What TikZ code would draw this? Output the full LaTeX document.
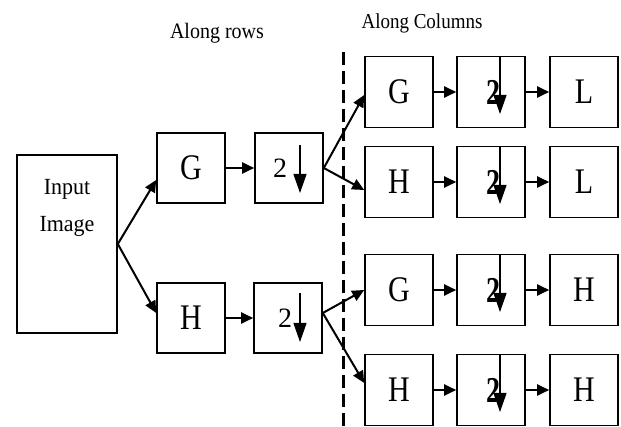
\documentclass[tikz,border=0pt]{standalone}
\usepackage{fontspec}
\usepackage{graphicx}
\setmainfont{Liberation Serif}
\usetikzlibrary{arrows.meta,calc}
\newcommand{\vst}[2]{\scalebox{1}[#1]{#2}}
\tikzset{
  blk/.style={draw=black, line width=1.6pt, minimum width=68pt, minimum height=70pt, inner sep=0pt, fill=white},
  lett/.style={inner sep=0pt, font=\fontsize{30}{30}\selectfont},
  dig/.style={inner sep=0pt, font=\fontsize{28}{28}\selectfont},
  hdr/.style={inner sep=0pt, anchor=base, font=\fontsize{19}{19}\selectfont},
  arr/.style={line width=2pt, -{Triangle[length=12pt,width=11pt]}},
  darr/.style={line width=1.2pt, -{Triangle[length=19pt,width=13pt]}},
  sep/.style={line width=3pt, dash pattern=on 13pt off 6pt}
}
\begin{document}
\begin{tikzpicture}[x=1pt,y=-1pt]
\useasboundingbox (0,0) rectangle (621,427);
% headers
\node[hdr] (hrows) at (217,39) {\fontsize{20}{20}\selectfont\vst{1.1}{Along rows}};
\node[hdr] (hcols) at (422,29) {\vst{1.12}{Along Columns}};
% separator
\coordinate (septop) at (343,52);
\coordinate (sepbot) at (343,427);
\draw[sep] (septop) -- (sepbot);
% input
\node[blk, minimum width=100pt, minimum height=178pt] (in) at (67,244) {};
\node[inner sep=0pt, align=center, font=\fontsize{22}{37}\selectfont] (intxt) at (67,208) {\vst{1.05}{Input}\\\vst{1.05}{Image}};
% along rows
\node[blk] (G1) at (191,168) {};
\node[lett] (G1t) at (G1.center) {\vst{1.2}{G}};
\node[blk] (D1) at (289,168) {};
\node[dig] (D1t) at ([xshift=-9pt]D1.center) {2};
\node[blk] (H1) at (191,318) {};
\node[lett] (H1t) at (H1.center) {\vst{1.2}{H}};
\node[blk] (D2) at (288,318) {};
\node[dig] (D2t) at ([xshift=-3pt]D2.center) {2};
% along columns
\foreach \r/\y/\a/\c in {1/92/G/L, 2/182/H/L, 3/290/G/H, 4/390/H/H}{
  \node[blk, minimum height=71pt] (A\r) at (399,\y) {};
  \node[lett] (A\r t) at (A\r.center) {\vst{1.2}{\a}};
  \node[blk, minimum height=71pt] (B\r) at (491,\y) {};
  \node[dig] (B\r t) at ([xshift=2pt]B\r.center) {\vst{1.3}{\bfseries 2}};
  \node[blk, minimum height=71pt] (C\r) at (584,\y) {};
  \node[lett] (C\r t) at (C\r.center) {\vst{1.2}{\c}};
  \draw[darr] ([xshift=9pt,yshift=35pt]B\r.center) -- ([xshift=9pt,yshift=-22pt]B\r.center);
  \draw[arr] (A\r.east) -- (B\r.west);
  \draw[arr] (B\r.east) -- (C\r.west);
}
% downsample arrows along rows
\draw[darr] ([xshift=11pt,yshift=23pt]D1.center) -- ([xshift=11pt,yshift=-25pt]D1.center);
\draw[darr] ([xshift=12pt,yshift=25pt]D2.center) -- ([xshift=12pt,yshift=-24pt]D2.center);
% connectors
\draw[arr] (in.east) -- ([yshift=-12pt]G1.west);
\draw[arr] (in.east) -- ([yshift=5pt]H1.west);
\draw[arr] (G1.east) -- (D1.west);
\draw[arr] (H1.east) -- (D2.west);
\draw[arr] (D1.east) -- ([yshift=-3pt]A1.west);
\draw[arr] (D1.east) -- ([yshift=-8pt]A2.west);
\draw[arr] ([yshift=5pt]D2.east) -- (A3.west);
\draw[arr] ([yshift=5pt]D2.east) -- ([yshift=7pt]A4.west);
\end{tikzpicture}
\end{document}
